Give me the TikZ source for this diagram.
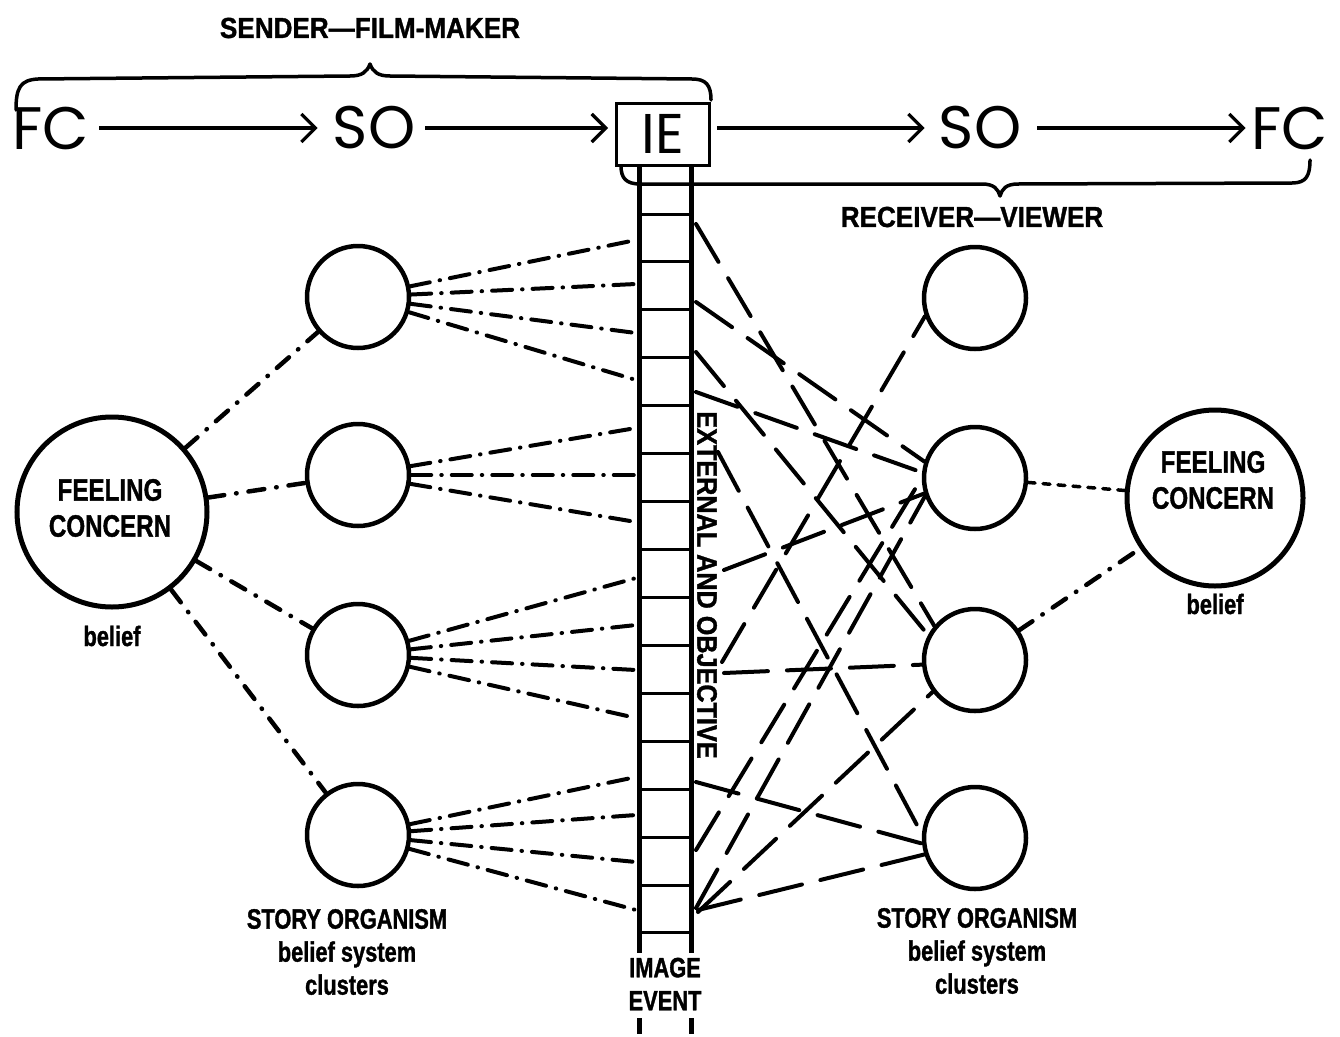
\documentclass[tikz,border=0pt]{standalone}
\usepackage{fontspec}
\setmainfont{Liberation Sans}
\newfontfamily\geo{Poppins}
\newfontfamily\lab{Liberation Sans Bold}[FakeStretch=0.78,FakeBold=1.2]
\newfontfamily\labw{Liberation Sans Bold}[FakeStretch=0.9,FakeBold=1.2]
\usetikzlibrary{arrows.meta}
\begin{document}
\begin{tikzpicture}[x=1pt,y=-1pt,
  big/.style={font=\geo\fontsize{60}{60}\selectfont, inner sep=0pt},
  lab/.style={font=\lab\fontsize{28}{33}\selectfont, align=center, inner sep=0pt},
  fctext/.style={font=\lab\fontsize{31}{36}\selectfont, align=center, inner sep=0pt},
  head/.style={font=\labw\fontsize{29}{33}\selectfont, inner sep=0pt},
  soc/.style={circle, draw, line width=4.5pt, minimum size=102pt, inner sep=0pt},
  fcc/.style={circle, draw, line width=5pt, inner sep=0pt},
  fan/.style={line width=4pt, line cap=round, dash pattern=on 20pt off 10pt on 0.5pt off 10pt},
  rl/.style={line width=4pt, line cap=round, dash pattern=on 44pt off 19pt},
  fcl/.style={line width=4.5pt, line cap=round, dash pattern=on 16pt off 12pt on 0.5pt off 12pt},
  shortdash/.style={line width=3.5pt, line cap=round, dash pattern=on 7pt off 8pt},
  arr/.style={line width=3.2pt, -{Straight Barb[length=14pt,width=28pt]}},
  rail/.style={line width=5pt},
  rungs/.style={line width=3pt},
  brace/.style={line width=3.5pt, line cap=round, line join=round}
]
\useasboundingbox (0,0) rectangle (1340,1036);
\fill[white] (0,0) rectangle (1340,1036);

% top row
\node[big] (fcA) at (51,128) {FC};
\node[big] (soA) at (374,128) {SO};
\node[draw, line width=3pt, minimum width=93pt, minimum height=62pt, inner sep=0pt,
      font=\geo\fontsize{56}{56}\selectfont] (ie) at (663,134) {IE};
\node[big] (soB) at (980,128) {SO};
\node[big] (fcB) at (1290,128) {FC};

\draw[arr, shorten <=10pt, shorten >=15pt] (fcA.east) -- (soA.west);
\draw[arr, shorten <=10pt, shorten >=7pt] (soA.east) -- (ie.west |- soA.east);
\draw[arr, shorten <=6pt, shorten >=14pt] (ie.east |- soB.west) -- (soB.west);
\draw[arr, shorten <=16pt, shorten >=6pt] (soB.east) -- (fcB.west);

% braces
\draw[brace] (16,110) .. controls (16,88) and (20,80) .. (38,79) -- (350,76)
  .. controls (362,76) and (367,72) .. (370,64) .. controls (373,72) and (378,76) .. (390,76)
  -- (692,79) .. controls (706,79) and (711,85) .. (711,100);
\draw[brace] (621,166) .. controls (621,178) and (626,184) .. (640,184) -- (982,184)
  .. controls (994,184) and (998,189) .. (1000,196) .. controls (1002,189) and (1006,184) .. (1018,184)
  -- (1292,183) .. controls (1306,183) and (1310,176) .. (1310,160);

\node[head] (sender) at (370,28) {SENDER—FILM-MAKER};
\node[head] (receiver) at (972,217) {RECEIVER—VIEWER};

% ladder
\draw[rail] (639,166) -- (639,953);
\draw[rail] (691,166) -- (691,953);
\foreach \k in {0,...,15} \draw[rungs] (639,{214+47.93*\k}) -- (691,{214+47.93*\k});
\draw[line width=5pt] (639,1018) -- (639,1034);
\draw[line width=5pt] (691,1018) -- (691,1034);

% circles
\node[soc] (S1) at (358,297) {};
\node[soc] (S2) at (358,475) {};
\node[soc] (S3) at (358,655) {};
\node[soc] (S4) at (358,835) {};
\node[soc] (R1) at (975,298) {};
\node[soc] (R2) at (975,478) {};
\node[soc] (R3) at (975,660) {};
\node[soc] (R4) at (975,838) {};
\node[fcc, minimum size=190pt] (LFC) at (112,512) {};
\node[fcc, minimum size=176pt] (RFC) at (1215,498) {};
\node[fctext] (lfct) at (110,508) {FEELING\\CONCERN};
\node[fctext] (rfct) at (1213,480) {FEELING\\CONCERN};

% FC links
\draw[fcl] (LFC) -- (S1);
\draw[fcl] (LFC) -- (S2);
\draw[fcl] (LFC) -- (S3);
\draw[fcl] (LFC) -- (S4);
\draw[shortdash] (R2) -- (RFC);
\draw[fcl] (R3) -- (RFC);

% left fans to ladder
\coordinate (p1) at (636,240);
\coordinate (p2) at (636,284);
\coordinate (p3) at (636,333);
\coordinate (p4) at (636,380);
\coordinate (p5) at (636,428);
\coordinate (p6) at (636,475);
\coordinate (p7) at (636,522);
\coordinate (p8) at (636,578);
\coordinate (p9) at (636,625);
\coordinate (p10) at (636,670);
\coordinate (p11) at (636,718);
\coordinate (p12) at (636,777);
\coordinate (p13) at (636,815);
\coordinate (p14) at (636,862);
\coordinate (p15) at (636,910);
\foreach \p in {p1,p2,p3,p4} \draw[fan] (S1) -- (\p);
\foreach \p in {p5,p6,p7} \draw[fan] (S2) -- (\p);
\foreach \p in {p8,p9,p10,p11} \draw[fan] (S3) -- (\p);
\foreach \p in {p12,p13,p14,p15} \draw[fan] (S4) -- (\p);

% right side lines
\coordinate (qA) at (696,224);
\coordinate (qB) at (696,302);
\coordinate (qC) at (696,352);
\coordinate (qD) at (696,392);
\coordinate (qE) at (718,452);
\coordinate (qJ) at (724,570);
\coordinate (qI) at (722,662);
\coordinate (qL) at (724,673);
\coordinate (qF) at (696,782);
\coordinate (qK1) at (696,850);
\coordinate (qK2) at (696,908);
\coordinate (qG) at (698,910);
\coordinate (qH) at (698,912);
\draw[rl] (qA) -- (R3.140);
\draw[rl] (qB) -- (R2.162);
\draw[rl] (qC) -- (R3.152);
\draw[rl] (qD) -- (R2.174);
\draw[rl] (qE) -- (R4.176);
\draw[rl] (qJ) -- (R2.197);
\draw[rl] (qI) -- (R1.200);
\draw[rl] (qL) -- (R3.185);
\draw[rl] (qF) -- (R4.186);
\draw[rl] (qK1) -- (R2.180);
\draw[rl] (qK2) -- (R2.200);
\draw[rl] (qG) -- (R4.198);
\draw[rl] (qH) -- (R3.217);

% labels
\node[lab] (bl1) at (112,636) {belief};
\node[lab] (bl2) at (1215,604) {belief};
\node[lab] (sol) at (347,952) {STORY ORGANISM\\belief system\\clusters};
\node[lab] (sor) at (977,951) {STORY ORGANISM\\belief system\\clusters};
\node[lab] (iel) at (665,984) {IMAGE\\EVENT};
\node[lab, font=\labw\fontsize{28}{28}\selectfont, rotate=-90] (ext) at (707,585) {EXTERNAL AND OBJECTIVE};
\end{tikzpicture}
\end{document}
